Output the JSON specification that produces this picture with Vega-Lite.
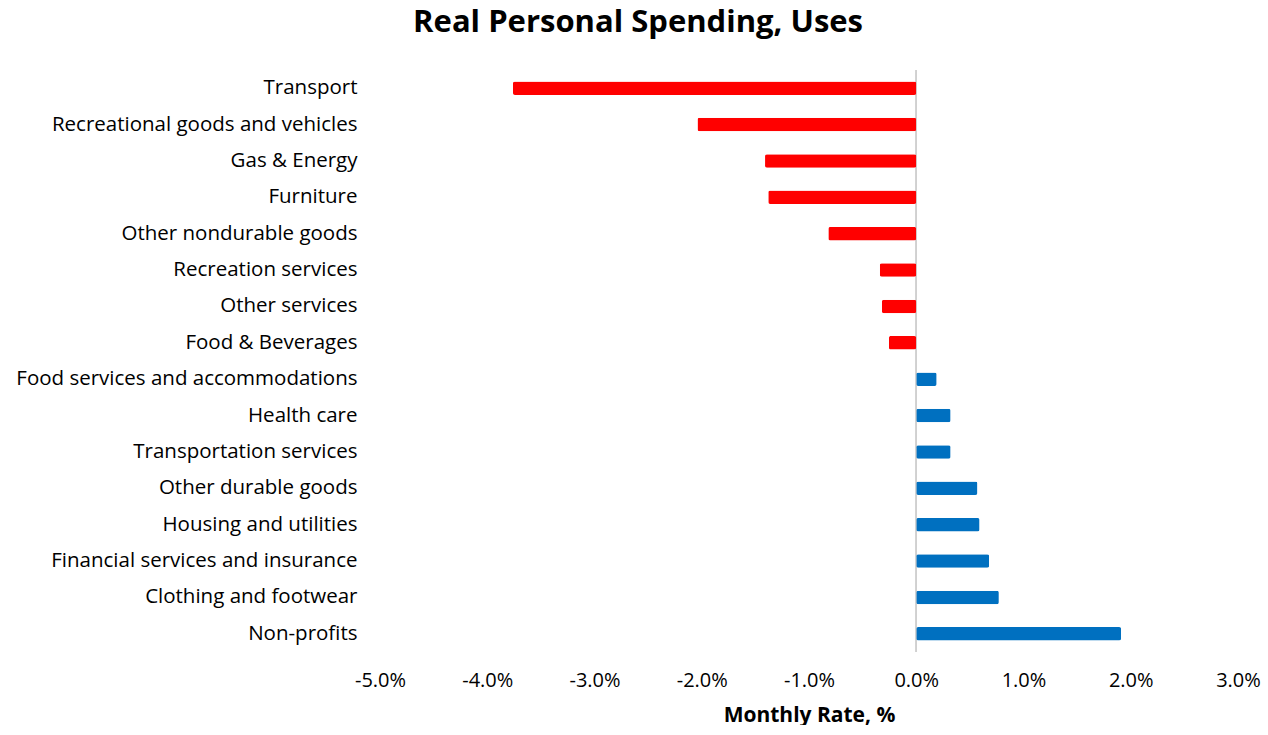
{
  "$schema": "https://vega.github.io/schema/vega-lite/v6.json",
  "width": 858,
  "height": 582,
  "padding": {"left": 15, "top": 6, "right": 0, "bottom": 0},
  "background": "white",
  "config": {
    "view": {"stroke": null},
    "font": "Open Sans"
  },
  "title": {
    "text": "Real Personal Spending, Uses",
    "font": "Open Sans",
    "fontSize": 31,
    "fontWeight": "bold",
    "color": "#000000",
    "anchor": "middle",
    "frame": "bounds",
    "offset": 31
  },
  "data": {
    "values": [
      {"category": "Transport", "value": -3.76},
      {"category": "Recreational goods and vehicles", "value": -2.04},
      {"category": "Gas & Energy", "value": -1.41},
      {"category": "Furniture", "value": -1.38},
      {"category": "Other nondurable goods", "value": -0.82},
      {"category": "Recreation services", "value": -0.34},
      {"category": "Other services", "value": -0.32},
      {"category": "Food & Beverages", "value": -0.255},
      {"category": "Food services and accommodations", "value": 0.19},
      {"category": "Health care", "value": 0.32},
      {"category": "Transportation services", "value": 0.32},
      {"category": "Other durable goods", "value": 0.57},
      {"category": "Housing and utilities", "value": 0.59},
      {"category": "Financial services and insurance", "value": 0.68},
      {"category": "Clothing and footwear", "value": 0.77},
      {"category": "Non-profits", "value": 1.91}
    ]
  },
  "layer": [
    {
      "mark": {"type": "rule", "color": "#D0D0D0", "strokeWidth": 1},
      "encoding": {
        "x": {"datum": 0, "type": "quantitative"}
      }
    },
    {
      "mark": {"type": "bar", "cornerRadius": 2},
      "encoding": {
        "y": {
          "field": "category",
          "type": "nominal",
          "sort": null,
          "scale": {"paddingInner": 0.63, "paddingOuter": 0.315},
          "axis": {
            "title": null,
            "domain": false,
            "ticks": false,
            "labelPadding": 23,
            "labelFont": "Open Sans",
            "labelFontSize": 20.5,
            "labelColor": "#000000",
            "labelLimit": 500
          }
        },
        "x": {
          "field": "value",
          "type": "quantitative",
          "scale": {"domain": [-5, 3], "nice": false, "zero": false},
          "axis": {
            "title": "Monthly Rate, %",
            "titleFont": "Open Sans",
            "titleFontSize": 21,
            "titleFontWeight": "bold",
            "titleColor": "#000000",
            "titlePadding": 14,
            "values": [-5, -4, -3, -2, -1, 0, 1, 2, 3],
            "labelExpr": "(datum.value < 0 ? '-' : '') + format(abs(datum.value), '.1f') + '%'",
            "labelFont": "Open Sans",
            "labelFontSize": 20,
            "labelColor": "#000000",
            "labelPadding": 18,
            "labelFlush": false,
            "domain": false,
            "ticks": false,
            "grid": false
          }
        },
        "color": {
          "condition": {"test": "datum.value < 0", "value": "#FF0000"},
          "value": "#0070C0"
        }
      }
    }
  ]
}
